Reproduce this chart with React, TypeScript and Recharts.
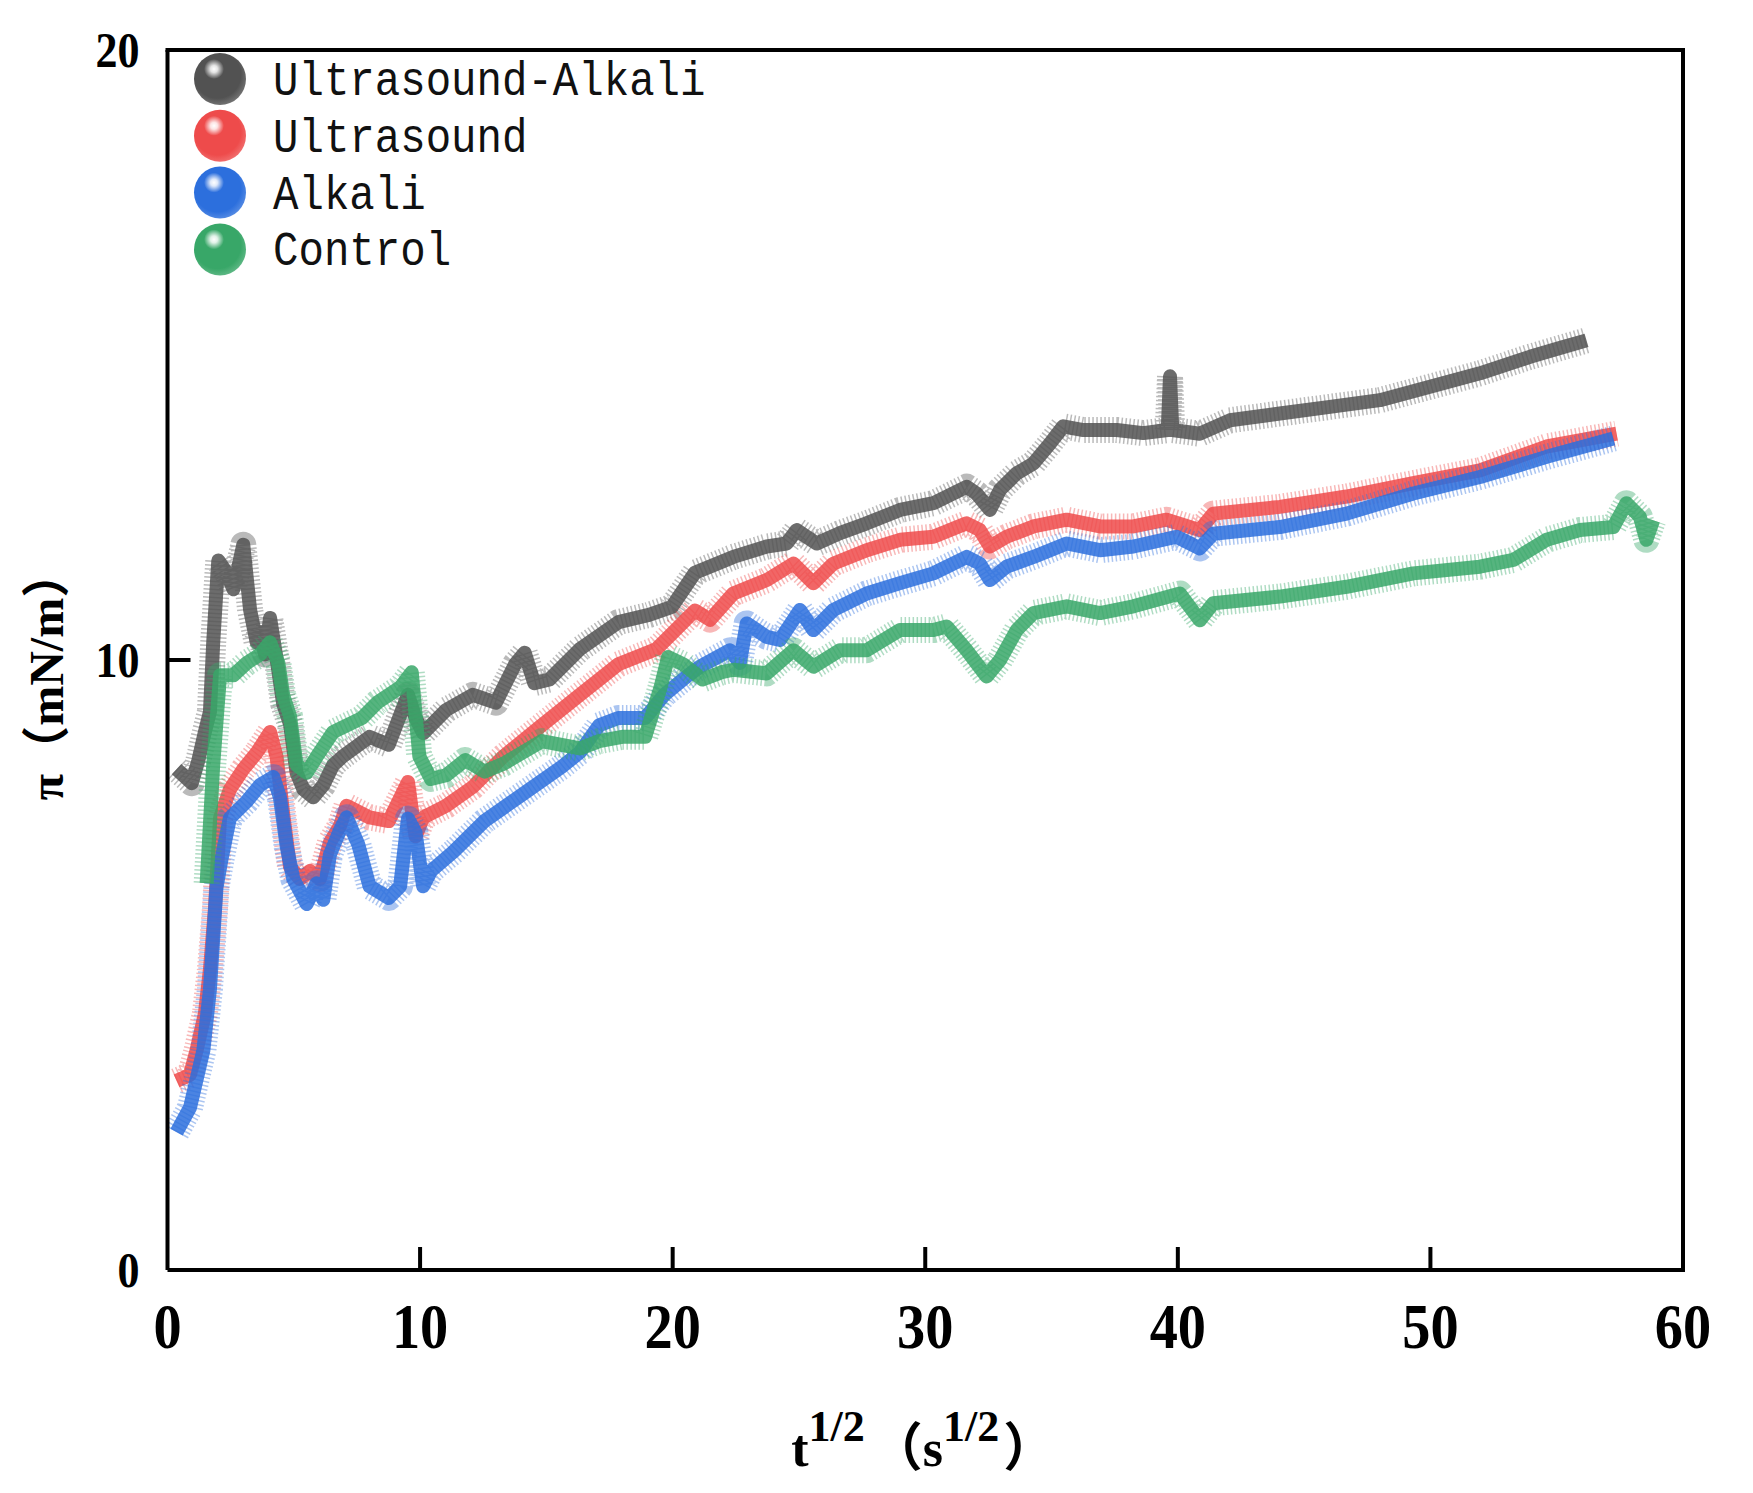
import { Line, LineChart, ReferenceLine, XAxis, YAxis } from "recharts";

const xTicks = [0, 10, 20, 30, 40, 50, 60];
const yTicks = [0, 10, 20];

const seriesNames = ["Ultrasound-Alkali", "Ultrasound", "Alkali", "Control"];
const seriesColors = ["#525252", "#ee4b4b", "#2c6fdd", "#38a768"];

// Ultrasound-Alkali (grey)
const usAlkaliX = [
  0.36, 0.96, 1.22, 1.48, 1.68, 1.81, 2.01, 2.34, 2.61, 3.0, 3.27, 3.53, 3.66, 3.86, 4.06, 4.32,
  4.58, 4.85, 5.11, 5.38, 5.77, 6.17, 6.56, 6.94, 8.0, 8.76, 9.52, 9.82, 10.12, 11.03, 12.09, 13.0,
  13.76, 14.14, 14.52, 15.12, 16.33, 17.85, 19.06, 19.97, 20.88, 22.4, 23.72, 24.51, 24.91, 25.7,
  26.62, 27.68, 29.0, 30.32, 31.64, 32.03, 32.56, 32.96, 33.62, 34.28, 34.94, 35.46, 36.26, 37.58,
  38.63, 39.6, 39.69, 39.78, 40.87, 42.06, 44.04, 46.02, 48.0, 49.98, 51.96, 53.94, 55.26, 56.18,
];
const usAlkaliY = [
  8.21, 7.98, 8.35, 8.82, 9.15, 10.29, 11.63, 11.43, 11.16, 11.89, 10.82, 10.29, 10.46, 10.09,
  10.69, 10.02, 9.28, 8.95, 8.15, 7.88, 7.75, 7.95, 8.28, 8.42, 8.74, 8.61, 9.43, 9.05, 8.8, 9.18,
  9.43, 9.3, 9.93, 10.12, 9.62, 9.68, 10.18, 10.62, 10.74, 10.87, 11.43, 11.69, 11.86, 11.91,
  12.13, 11.91, 12.08, 12.24, 12.46, 12.57, 12.84, 12.73, 12.46, 12.79, 13.06, 13.22, 13.55,
  13.83, 13.77, 13.77, 13.72, 13.77, 14.65, 13.77, 13.71, 13.93, 14.04, 14.15, 14.26, 14.48, 14.7,
  14.97, 15.13, 15.24,
];

// Ultrasound (red)
const ultrasoundX = [
  0.36, 0.89, 1.15, 1.48, 1.68, 1.88, 2.08, 2.47, 3.0, 3.53, 4.06, 4.32, 4.58, 4.85, 5.24, 5.64,
  6.03, 6.43, 6.83, 7.09, 8.0, 8.76, 9.52, 9.82, 10.12, 11.03, 12.09, 13.3, 14.82, 16.33, 17.85,
  19.36, 20.88, 21.48, 22.4, 23.72, 24.78, 25.57, 26.36, 27.68, 29.0, 30.32, 31.64, 32.16, 32.56,
  33.22, 34.28, 35.6, 36.92, 38.24, 39.55, 40.87, 41.4, 44.04, 46.68, 49.32, 51.96, 54.6, 57.37,
];
const ultrasoundY = [
  3.1, 3.2, 3.6, 4.2, 4.93, 5.94, 7.41, 7.88, 8.21, 8.48, 8.82, 8.41, 7.48, 6.61, 6.41, 6.54, 6.41,
  7.01, 7.28, 7.61, 7.42, 7.36, 8.0, 7.11, 7.42, 7.61, 7.92, 8.42, 8.93, 9.43, 9.93, 10.18, 10.81,
  10.66, 11.09, 11.31, 11.58, 11.26, 11.58, 11.8, 11.97, 12.02, 12.24, 12.13, 11.86, 12.02, 12.19,
  12.3, 12.19, 12.19, 12.3, 12.13, 12.4, 12.51, 12.68, 12.9, 13.11, 13.5, 13.71,
];

// Alkali (blue)
const alkaliX = [
  0.36, 0.89, 1.42, 1.68, 1.94, 2.14, 2.47, 3.13, 3.66, 4.19, 4.45, 4.72, 4.98, 5.24, 5.51, 5.9,
  6.17, 6.43, 6.83, 7.09, 7.55, 8.0, 8.76, 9.21, 9.52, 9.82, 10.12, 10.43, 11.33, 12.55, 14.06,
  15.58, 16.33, 17.09, 17.85, 18.91, 19.67, 20.58, 21.08, 22.27, 22.66, 22.93, 23.72, 24.25, 25.04,
  25.57, 26.36, 27.68, 29.0, 30.32, 31.64, 32.16, 32.56, 33.22, 34.28, 35.6, 36.92, 38.24, 39.95,
  40.87, 41.4, 44.04, 46.68, 49.32, 51.96, 54.6, 57.24,
];
const alkaliY = [
  2.26, 2.66, 3.6, 4.6, 6.27, 6.74, 7.41, 7.68, 7.95, 8.08, 7.75, 6.94, 6.41, 6.21, 6.0, 6.34, 6.07,
  6.81, 7.21, 7.42, 6.98, 6.29, 6.1, 6.29, 7.4, 7.17, 6.29, 6.54, 6.86, 7.36, 7.8, 8.24, 8.49, 8.93,
  9.05, 9.05, 9.43, 9.74, 9.89, 10.16, 9.95, 10.6, 10.38, 10.33, 10.82, 10.49, 10.82, 11.09, 11.26,
  11.42, 11.69, 11.58, 11.31, 11.53, 11.69, 11.91, 11.8, 11.86, 12.02, 11.83, 12.07, 12.18, 12.4,
  12.73, 13.0, 13.33, 13.63,
];

// Control (green)
const controlX = [
  1.55, 1.81, 2.08, 2.61, 3.13, 3.66, 4.06, 4.39, 4.58, 4.85, 5.11, 5.51, 5.9, 6.56, 7.7, 8.3, 9.21,
  9.67, 9.97, 10.43, 11.03, 11.79, 12.55, 13.3, 14.82, 16.33, 17.09, 18.0, 18.91, 19.52, 19.82,
  20.42, 21.18, 21.94, 22.4, 23.72, 24.78, 25.57, 26.62, 27.68, 29.0, 30.32, 30.85, 31.64, 32.43,
  32.96, 33.62, 34.28, 35.6, 36.92, 38.24, 40.08, 40.87, 41.4, 44.04, 46.68, 49.32, 51.96, 53.28,
  54.6, 55.92, 57.24, 57.76, 58.29, 58.55, 58.82,
];
const controlY = [
  6.34, 8.28, 9.75, 9.75, 9.95, 10.09, 10.29, 9.95, 9.42, 9.08, 8.28, 8.15, 8.41, 8.82, 9.05, 9.3,
  9.55, 9.8, 8.42, 8.05, 8.11, 8.36, 8.17, 8.3, 8.67, 8.55, 8.67, 8.74, 8.74, 9.55, 10.05, 9.93,
  9.68, 9.8, 9.84, 9.78, 10.16, 9.89, 10.16, 10.16, 10.49, 10.49, 10.55, 10.16, 9.73, 10.0, 10.49,
  10.77, 10.88, 10.77, 10.88, 11.09, 10.65, 10.93, 11.04, 11.2, 11.42, 11.53, 11.64, 11.97, 12.13,
  12.18, 12.57, 12.35, 11.97, 12.29,
];

const toPoints = (xs: number[], ys: number[]) => xs.map((x, i) => ({ x, y: ys[i] }));

const series = [
  toPoints(usAlkaliX, usAlkaliY),
  toPoints(ultrasoundX, ultrasoundY),
  toPoints(alkaliX, alkaliY),
  toPoints(controlX, controlY),
];

const serif = "'Liberation Serif', 'Times New Roman', 'Noto Sans CJK SC', serif";

function XTick(props: any) {
  const { x, y, payload } = props;
  const v = payload.value;
  return (
    <g>
      {v > 0 && v < 60 && <line x1={x} x2={x} y1={y} y2={y - 23} stroke="#000" strokeWidth={4} />}
      <text
        transform={`translate(${x},${y + 78}) scale(0.88,1)`}
        textAnchor="middle"
        fontFamily={serif}
        fontWeight="bold"
        fontSize={64}
        fill="#000"
      >
        {v}
      </text>
    </g>
  );
}

function YTick(props: any) {
  const { x, y, payload } = props;
  const v = payload.value;
  return (
    <g>
      {v > 0 && v < 20 && <line x1={x} x2={x + 23} y1={y} y2={y} stroke="#000" strokeWidth={4} />}
      <text
        transform={`translate(${x - 28},${y + 17}) scale(0.88,1)`}
        textAnchor="end"
        fontFamily={serif}
        fontWeight="bold"
        fontSize={50}
        fill="#000"
      >
        {v}
      </text>
    </g>
  );
}

function XTitle(props: any) {
  const { viewBox } = props;
  const cx = viewBox.x + viewBox.width / 2 - 2;
  const base = viewBox.y + 196;
  return (
    <text x={cx} y={base} textAnchor="middle" fontFamily={serif} fontWeight="bold" fontSize={52} fill="#000">
      <tspan>t</tspan>
      <tspan fontSize={44} dy={-25}>1/2</tspan>
      <tspan dy={25} dx={6}>（s</tspan>
      <tspan fontSize={44} dy={-25}>1/2</tspan>
      <tspan dy={25} dx={4}>）</tspan>
    </text>
  );
}

function YTitle(props: any) {
  const { viewBox } = props;
  const cy = viewBox.y + viewBox.height / 2 + 15;
  return (
    <text
      transform={`translate(63,${cy}) rotate(-90)`}
      textAnchor="middle"
      fontFamily={serif}
      fontWeight="bold"
      fontSize={48}
      fill="#000"
    >
      π（mN/m）
    </text>
  );
}

function LegendOverlay() {
  const cy0 = 79;
  const step = 56.8;
  return (
    <svg
      width={760}
      height={300}
      style={{ position: "absolute", left: 0, top: 0, pointerEvents: "none" }}
    >
      <defs>
        {seriesColors.map((c, i) => (
          <radialGradient key={c} id={`ball${i}`} cx="0.45" cy="0.42" r="0.6">
            <stop offset="0" stopColor={c} />
            <stop offset="0.75" stopColor={c} />
            <stop offset="1" stopColor={c} stopOpacity={0.8} />
          </radialGradient>
        ))}
        <radialGradient id="shine" cx="0.5" cy="0.5" r="0.5">
          <stop offset="0" stopColor="#fff" stopOpacity={1} />
          <stop offset="0.35" stopColor="#fff" stopOpacity={0.85} />
          <stop offset="1" stopColor="#fff" stopOpacity={0} />
        </radialGradient>
      </defs>
      {seriesNames.map((name, i) => {
        const cy = cy0 + i * step;
        return (
          <g key={name}>
            <circle cx={220} cy={cy} r={26} fill={`url(#ball${i})`} />
            <circle cx={214} cy={cy - 10} r={10} fill="url(#shine)" />
            <text
              transform={`translate(273,${cy + 16}) scale(1.06,1.22)`}
              fontFamily="'Liberation Mono', 'DejaVu Sans Mono', monospace"
              fontSize={40}
              fill="#111"
            >
              {name}
            </text>
          </g>
        );
      })}
    </svg>
  );
}

export default function App() {
  return (
    <div style={{ position: "absolute", left: 0, top: 0, width: 1753, height: 1493, background: "#fff" }}>
      <LineChart width={1753} height={1493} margin={{ top: 50, right: 70, bottom: 73, left: 67.5 }}>
        <XAxis
          type="number"
          dataKey="x"
          domain={[0, 60]}
          ticks={xTicks}
          interval={0}
          allowDataOverflow
          height={150}
          tickSize={0}
          tickMargin={0}
          tickLine={false}
          axisLine={{ stroke: "#000", strokeWidth: 4 }}
          tick={(p: any) => <XTick {...p} />}
          label={<XTitle />}
        />
        <YAxis
          type="number"
          domain={[0, 20]}
          ticks={yTicks}
          interval={0}
          allowDataOverflow
          width={100}
          tickSize={0}
          tickMargin={0}
          tickLine={false}
          axisLine={{ stroke: "#000", strokeWidth: 4 }}
          tick={(p: any) => <YTick {...p} />}
          label={<YTitle />}
        />
        <ReferenceLine y={20} stroke="#000" strokeWidth={4} strokeLinecap="square" />
        <ReferenceLine x={60} stroke="#000" strokeWidth={4} strokeLinecap="square" />
        {series.flatMap((pts, i) => [
          <Line
            key={`halo${i}`}
            data={pts}
            dataKey="y"
            type="linear"
            stroke={seriesColors[i]}
            strokeWidth={26}
            strokeOpacity={0.4}
            strokeDasharray="1.5 2.5"
            strokeLinejoin="round"
            dot={false}
            activeDot={false}
            legendType="none"
            isAnimationActive={false}
          />,
          <Line
            key={`core${i}`}
            data={pts}
            dataKey="y"
            name={seriesNames[i]}
            type="linear"
            stroke={seriesColors[i]}
            strokeWidth={14}
            strokeOpacity={0.85}
            strokeLinejoin="round"
            dot={false}
            activeDot={false}
            isAnimationActive={false}
          />,
        ])}
      </LineChart>
      <LegendOverlay />
    </div>
  );
}
